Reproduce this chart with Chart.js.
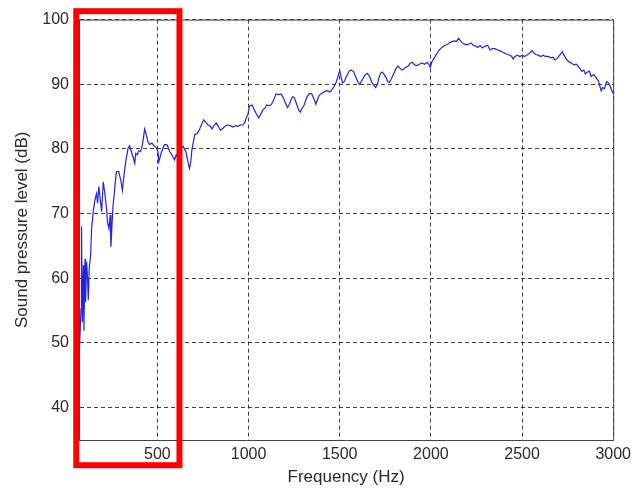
<!DOCTYPE html>
<html>
<head>
<meta charset="utf-8">
<title>Sound pressure level</title>
<script src="https://cdn.jsdelivr.net/npm/chart.js@4/dist/chart.umd.min.js"></script>
<style>
   html, body { margin: 0; padding: 0; background: #fff; }
   #wrap { width: 636px; height: 492px; }
</style>
</head>
<body>
<div id="wrap"><canvas id="chart" width="636" height="492"></canvas></div>
<script>
// frequency response, Hz
const freq = [
   72, 81, 84, 88, 94, 97, 103, 106, 112, 117,
   121, 126, 134, 139, 148, 157, 166, 172, 179, 186,
   194, 203, 212, 221, 226, 234, 241, 245, 252, 257,
   266, 275, 288, 299, 308, 317, 326, 339, 348, 357,
   366, 376, 381, 390, 397, 408, 416, 423, 430, 439,
   448, 457, 470, 481, 494, 503, 508, 518, 530, 539,
   554, 567, 579, 594, 603, 612, 621, 641, 656, 669,
   676, 683, 689, 696, 705, 718, 729, 741, 754, 765,
   778, 790, 800, 810, 823, 834, 845, 860, 874, 887,
   900, 914, 929, 942, 954, 969, 980, 987, 996, 1005,
   1020, 1032, 1045, 1056, 1069, 1078, 1089, 1100, 1111, 1123,
   1133, 1142, 1151, 1165, 1178, 1191, 1202, 1214, 1224, 1233,
   1242, 1251, 1264, 1275, 1284, 1293, 1305, 1318, 1333, 1347,
   1360, 1369, 1378, 1387, 1402, 1420, 1433, 1446, 1456, 1469,
   1482, 1493, 1500, 1507, 1515, 1524, 1537, 1551, 1562, 1575,
   1584, 1597, 1609, 1624, 1638, 1651, 1664, 1675, 1688, 1697,
   1706, 1715, 1724, 1733, 1744, 1755, 1764, 1773, 1784, 1797,
   1810, 1820, 1833, 1846, 1860, 1875, 1888, 1897, 1911, 1924,
   1937, 1951, 1966, 1979, 1988, 1997, 2006, 2021, 2033, 2046,
   2061, 2075, 2088, 2101, 2115, 2130, 2141, 2152, 2163, 2173,
   2184, 2197, 2206, 2221, 2233, 2246, 2257, 2270, 2283, 2297,
   2312, 2324, 2337, 2352, 2366, 2379, 2392, 2406, 2421, 2434,
   2443, 2452, 2461, 2475, 2488, 2503, 2512, 2525, 2537, 2548,
   2556, 2566, 2576, 2588, 2603, 2616, 2628, 2643, 2657, 2670,
   2679, 2690, 2701, 2712, 2721, 2730, 2743, 2756, 2770, 2785,
   2798, 2807, 2816, 2828, 2839, 2847, 2858, 2870, 2879, 2894,
   2907, 2919, 2927, 2934, 2943, 2952, 2963, 2974, 2981, 2989,
   2998
]

// level, dB
const spl = [
   48.6, 55.3, 68.0, 53.2, 62.0, 51.9, 63.0, 56.3, 62.5, 59.9,
   56.6, 61.5, 63.6, 67.7, 70.3, 72.1, 73.1, 71.6, 74.2, 72.3,
   70.3, 74.9, 73.1, 70.8, 68.7, 67.7, 69.8, 64.9, 68.7, 71.3,
   73.9, 76.5, 76.5, 75.2, 73.6, 76.0, 78.0, 80.1, 80.5, 79.6,
   78.8, 77.8, 79.3, 79.1, 79.7, 79.6, 80.4, 81.6, 83.1, 82.2,
   81.1, 80.7, 80.9, 80.5, 80.2, 79.6, 78.0, 79.1, 80.1, 80.7,
   80.6, 79.6, 79.1, 78.3, 79.1, 78.6, 79.8, 80.4, 79.6, 77.8,
   77.0, 78.0, 79.8, 80.9, 82.2, 82.4, 82.9, 83.7, 84.5, 84.1,
   83.7, 83.5, 83.1, 83.6, 84.0, 83.5, 82.9, 83.2, 83.6, 83.7,
   83.6, 83.4, 83.6, 83.5, 83.7, 83.7, 84.1, 84.8, 85.3, 86.6,
   86.8, 86.0, 85.3, 84.8, 85.5, 86.0, 86.3, 86.8, 86.7, 86.8,
   87.3, 87.9, 88.5, 88.4, 88.5, 87.9, 87.1, 86.4, 86.9, 87.6,
   88.1, 87.9, 86.9, 86.0, 85.7, 86.3, 86.8, 87.9, 88.6, 88.5,
   87.6, 86.9, 87.6, 88.3, 88.6, 88.9, 89.0, 88.8, 89.1, 89.7,
   90.4, 91.5, 92.1, 91.2, 90.2, 90.4, 91.2, 92.0, 92.2, 92.0,
   91.4, 90.5, 90.0, 90.7, 91.4, 91.7, 91.2, 90.4, 89.8, 89.5,
   89.9, 91.0, 91.7, 91.9, 91.5, 91.0, 90.4, 90.3, 90.9, 91.7,
   92.5, 92.8, 92.4, 92.2, 92.6, 92.8, 93.3, 93.4, 93.0, 92.9,
   93.1, 93.3, 93.1, 93.4, 93.1, 92.6, 93.5, 94.2, 94.8, 95.3,
   95.7, 96.0, 96.1, 96.4, 96.6, 96.7, 96.6, 97.1, 96.7, 96.4,
   96.2, 96.1, 96.2, 96.4, 96.0, 95.9, 95.7, 96.0, 95.6, 95.9,
   96.0, 95.3, 95.5, 95.5, 95.3, 95.2, 95.0, 94.8, 94.6, 94.5,
   94.3, 93.9, 94.3, 94.5, 94.3, 94.5, 94.3, 94.5, 94.7, 95.0,
   95.2, 94.8, 94.6, 94.5, 94.3, 94.5, 94.3, 94.3, 94.1, 94.2,
   93.8, 93.9, 94.3, 94.7, 95.0, 94.5, 93.9, 93.5, 93.3, 93.0,
   93.1, 92.8, 92.5, 92.0, 92.2, 91.6, 91.9, 92.0, 91.2, 91.5,
   91.0, 90.5, 89.7, 89.0, 89.5, 89.3, 90.4, 90.2, 89.9, 89.3,
   88.6
]

const xTicks = [500, 1000, 1500, 2000, 2500, 3000]
const yTicks = [40, 50, 60, 70, 80, 90, 100]

const FONT = "'Liberation Sans', Arial, sans-serif"

// solid box on top and right like the other two axes
const boxPlugin = {
   id: "box",
   afterDraw(chart) {
      const { ctx, chartArea: a } = chart
      ctx.save()
      ctx.strokeStyle = "#444"
      ctx.lineWidth = 1
      ctx.setLineDash([])
      ctx.beginPath()
      ctx.moveTo(a.left, a.top + 0.5)
      ctx.lineTo(a.right + 0.5, a.top + 0.5)
      ctx.lineTo(a.right + 0.5, a.bottom)
      ctx.stroke()
      ctx.restore()
   }
}

// red frame around the low frequency band
const bandPlugin = {
   id: "band",
   afterDraw(chart) {
      const { ctx, scales: { x, y } } = chart
      const x1 = x.getPixelForValue(55)
      const x2 = x.getPixelForValue(621)
      const y1 = y.getPixelForValue(101.3)
      const y2 = y.getPixelForValue(31.1)
      ctx.save()
      ctx.strokeStyle = "#ff0000"
      ctx.lineWidth = 6
      ctx.strokeRect(x1, y1, x2 - x1, y2 - y1)
      ctx.restore()
   }
}

const grid = {
   color: "rgba(0,0,0,0.75)",
   lineWidth: 1,
   drawTicks: false
}

new Chart(document.getElementById("chart"), {
   type: "line",
   data: {
      datasets: [{
         data: freq.map((f, i) => ({ x: f, y: spl[i] })),
         borderColor: "#2323e0",
         borderWidth: 1.2,
         pointRadius: 0,
         tension: 0,
         fill: false
      }]
   },
   options: {
      responsive: false,
      animation: false,
      layout: { padding: { left: 0, right: 20, top: 18, bottom: 0 } },
      plugins: {
         legend: { display: false },
         tooltip: { enabled: false }
      },
      scales: {
         x: {
            type: "linear",
            min: 70,
            max: 3000,
            afterBuildTicks: s => { s.ticks = xTicks.map(v => ({ value: v })) },
            afterFit: s => { s.height = 52 },
            grid: grid,
            border: { display: true, color: "#444", width: 1, dash: [4, 3] },
            ticks: {
               color: "#2a2a2a",
               font: { family: FONT, size: 16 },
               padding: 5,
               maxRotation: 0,
               callback: v => String(v)
            },
            title: {
               display: true,
               text: "Frequency (Hz)",
               color: "#2a2a2a",
               font: { family: FONT, size: 17 },
               padding: { top: 0, bottom: 4 }
            }
         },
         y: {
            min: 35,
            max: 100,
            afterBuildTicks: s => { s.ticks = yTicks.map(v => ({ value: v })) },
            afterFit: s => { s.width = 79 },
            grid: grid,
            border: { display: true, color: "#444", width: 1, dash: [4, 3] },
            ticks: {
               color: "#2a2a2a",
               font: { family: FONT, size: 16 },
               padding: 10,
               callback: v => String(v)
            },
            title: {
               display: true,
               text: "Sound pressure level (dB)",
               color: "#2a2a2a",
               font: { family: FONT, size: 17 },
               padding: { top: 12, bottom: 0 }
            }
         }
      }
   },
   plugins: [boxPlugin, bandPlugin]
})
</script>
</body>
</html>
